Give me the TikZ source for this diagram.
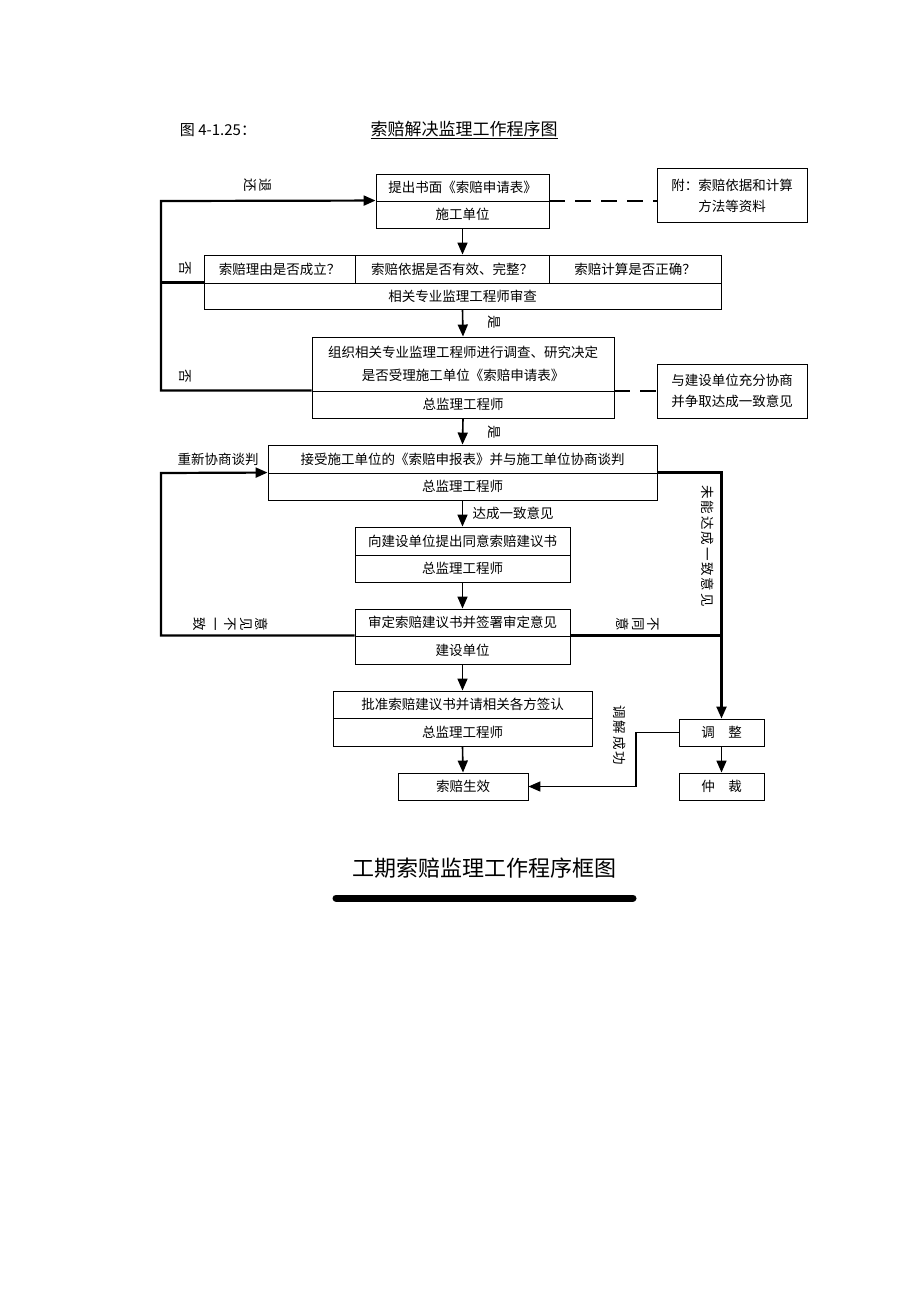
\documentclass[tikz,border=0pt]{standalone}
\usepackage{fontspec}
\setmainfont{Noto Sans CJK SC}
\usetikzlibrary{arrows.meta}

\begin{document}
\begin{tikzpicture}[x=1pt, y=-1pt,
    cell/.style={rectangle, draw, line width=0.9pt, minimum height=27pt, inner sep=0pt, text centered, font=\fontsize{13.5}{16}\selectfont},
    note/.style={rectangle, draw, line width=0.9pt, minimum width=150pt, minimum height=54pt, align=center, font=\fontsize{13.5}{21}\selectfont},
    tip/.style={-{Triangle[length=12pt,width=10pt]}},
    flow/.style={line width=1.6pt, tip},
    loopline/.style={line width=2.2pt},
    lbl/.style={inner sep=0pt, font=\fontsize{13.5}{15.5}\selectfont},
    vlbl/.style={lbl, rotate=-90, align=center}
]
\useasboundingbox (0,0) rectangle (920,1302);

% headings
\node[lbl, font=\fontsize{15}{18}\selectfont] (fignum) at (218,130) {图 4-1.25：};
\node[lbl, font=\fontsize{17}{20}\selectfont] (title) at (464,130) {\underline{索赔解决监理工作程序图}};

% boxes
\node[cell, minimum width=173pt] (b1t) at (462.5,187.5) {提出书面《索赔申请表》};
\node[cell, minimum width=173pt] (b1b) at (462.5,214.5) {施工单位};
\node[note] (note1) at (732,195.5) {附：索赔依据和计算\\方法等资料};

\node[cell, minimum width=151pt, minimum height=28pt] (b2a) at (279.5,269) {索赔理由是否成立？};
\node[cell, minimum width=194pt, minimum height=28pt] (b2b) at (452,269) {索赔依据是否有效、完整？};
\node[cell, minimum width=172pt, minimum height=28pt] (b2c) at (635,269) {索赔计算是否正确？};
\node[cell, minimum width=517pt, minimum height=26pt] (b2d) at (462.5,296) {相关专业监理工程师审查};

\node[cell, minimum width=302pt, minimum height=54pt, align=center, font=\fontsize{13.5}{23}\selectfont] (b3t) at (463,364)
    {组织相关专业监理工程师进行调查、研究决定\\是否受理施工单位《索赔申请表》};
\node[cell, minimum width=302pt] (b3b) at (463,404.5) {总监理工程师};
\node[note] (note2) at (732,391) {与建设单位充分协商\\并争取达成一致意见};

\node[cell, minimum width=389pt, minimum height=28pt] (b4t) at (462.5,459) {接受施工单位的《索赔申报表》并与施工单位协商谈判};
\node[cell, minimum width=389pt] (b4b) at (462.5,486.5) {总监理工程师};

\node[cell, minimum width=215pt, minimum height=28pt] (b5t) at (462.5,541) {向建设单位提出同意索赔建议书};
\node[cell, minimum width=215pt] (b5b) at (462.5,568.5) {总监理工程师};

\node[cell, minimum width=215pt] (b6t) at (462.5,622.5) {审定索赔建议书并签署审定意见};
\node[cell, minimum width=215pt, minimum height=28pt] (b6b) at (462.5,650) {建设单位};

\node[cell, minimum width=259pt] (b7t) at (462.5,704.5) {批准索赔建议书并请相关各方签认};
\node[cell, minimum width=259pt, minimum height=28pt] (b7b) at (462.5,732) {总监理工程师};

\node[cell, minimum width=130pt] (effect) at (463,786.5) {索赔生效};
\node[cell, minimum width=85pt] (adjust) at (721.5,732.5) {调\hspace{1em}整};
\node[cell, minimum width=85pt] (arbit) at (721.5,786.5) {仲\hspace{1em}裁};

% labels
\node[vlbl] (lbreturn) at (258,185) {退\\还};
\node[vlbl] (lbno1) at (185,268) {否};
\node[vlbl] (lbno2) at (185,376) {否};
\node[vlbl] (lbyes1) at (494,322) {是};
\node[vlbl] (lbyes2) at (494,432) {是};
\node[lbl] (lbrenego) at (218,459) {重新协商谈判};
\node[lbl] (lbagree) at (513,513) {达成一致意见};
\node[vlbl] (lbfail) at (708,546) {未\kern2pt 能\kern2pt 达\kern2pt 成\kern2pt 一\kern2pt 致\kern2pt 意\kern2pt 见};
\node[vlbl] (lbdiff) at (231,624) {意\\见\\不\\一\\致};
\node[vlbl] (lbdisagree) at (638,624) {不\\同\\意};
\node[vlbl] (lbmediate) at (620,735) {调\kern2pt 解\kern2pt 成\kern2pt 功};

% main flow
\draw[flow] (b1b.south) -- (b1b.south |- b2b.north);
\draw[flow] (b2d.south) -- (b3t.north);
\draw[flow] (b3b.south) -- (b4t.north);
\draw[flow] (b4b.south) -- (b5t.north);
\draw[flow] (b5b.south) -- (b6t.north);
\draw[flow] (b6b.south) -- (b7t.north);
\draw[flow] (b7b.south) -- (effect.north);
\draw[flow] (adjust.south) -- (arbit.north);

% return loops
\coordinate (lt) at (161,201);
\coordinate (lm) at (161,473);
\coordinate (rt) at (721.5,473);
\coordinate (mend) at (636,732.5);
\draw[loopline, tip] (b3b.north west) -- (b3b.north west -| lt) -- (lt) -- (b1b.north west);
\draw[loopline] (b2d.north west) -- (b2d.north west -| lt);
\draw[loopline, tip] (b6b.north west) -- (b6b.north west -| lm) -- (lm) -- (b4b.north west);
\draw[loopline, tip] (b4b.north east) -- (b4b.north east -| rt) -- (adjust.north);
\draw[loopline] (b6b.north east) -- (b6b.north east -| rt);
\draw[flow] (adjust.west) -- (mend) -- (mend |- effect.east) -- (effect.east);

% dashed links
\draw[line width=2pt, dash pattern=on 16pt off 10pt] (b1b.north east) -- (b1b.north east -| note1.west);
\draw[line width=2pt, dash pattern=on 16pt off 10pt] (b3b.north east) -- (b3b.north east -| note2.west);

% footer
\node[lbl, font=\fontsize{22}{26}\selectfont] (footer) at (484,868) {工期索赔监理工作程序框图};
\draw[line width=7pt, line cap=round] (336,898) -- (633,898);

\end{tikzpicture}
\end{document}
